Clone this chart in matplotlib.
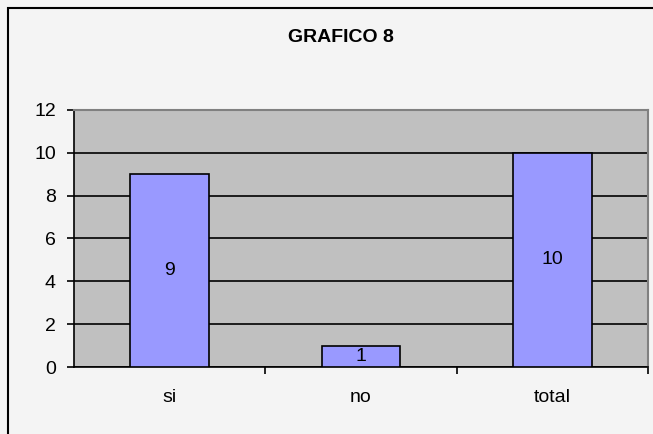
import matplotlib
matplotlib.use('agg')
import matplotlib.pyplot as plt
from matplotlib.patches import Rectangle

categories = ['si', 'no', 'total']
values = [9, 1, 10]
yticks = [0, 2, 4, 6, 8, 10, 12]

plt.rcParams['font.family'] = ['Liberation Sans', 'DejaVu Sans']

fig = plt.figure(figsize=(6.53, 4.34), dpi=100)
fig.patch.set_facecolor('#f4f4f4')

# chart frame (runs off the right and bottom edges like the source)
fig.patches.append(Rectangle((8 / 653, -0.1), 1.2, (434 - 8) / 434 + 0.1,
                             transform=fig.transFigure, fill=False,
                             edgecolor='black', linewidth=1.5))

ax = fig.add_axes([74 / 653, (434 - 367) / 434, (648 - 74) / 653, (367 - 110) / 434])
ax.set_facecolor('#c0c0c0')

x = list(range(len(categories)))
bars = ax.bar(x, values, width=0.41, color='#9999ff', edgecolor='black',
              linewidth=1.2, zorder=3)
for xi, v in zip(x, values):
    ax.text(xi, v / 2, str(v), ha='center', va='center', fontsize=14, zorder=4)

ax.set_xlim(-0.5, len(categories) - 0.5)
ax.set_ylim(0, 12)
ax.set_yticks(yticks)
ax.set_yticklabels([str(t) for t in yticks], fontsize=14)
ax.yaxis.grid(True, color='black', linewidth=1.2, zorder=1)
ax.set_axisbelow(True)

ax.set_xticks(x)
ax.set_xticklabels(categories, fontsize=14)
ax.tick_params(axis='x', length=0, pad=16)
ax.set_xticks([0.5, 1.5, 2.5], minor=True)
ax.tick_params(axis='x', which='minor', length=5, width=1.2, direction='out')
ax.tick_params(axis='y', length=5, width=1.2, direction='out', pad=8)

for s in ['left', 'bottom']:
    ax.spines[s].set_color('black')
    ax.spines[s].set_linewidth(1.2)
for s in ['top', 'right']:
    ax.spines[s].set_color('#808080')
    ax.spines[s].set_linewidth(1.5)

fig.text(341 / 653, (434 - 38) / 434, 'GRAFICO 8', ha='center', va='center',
         fontsize=14, fontweight='bold')

plt.savefig('out.png', facecolor=fig.get_facecolor())
